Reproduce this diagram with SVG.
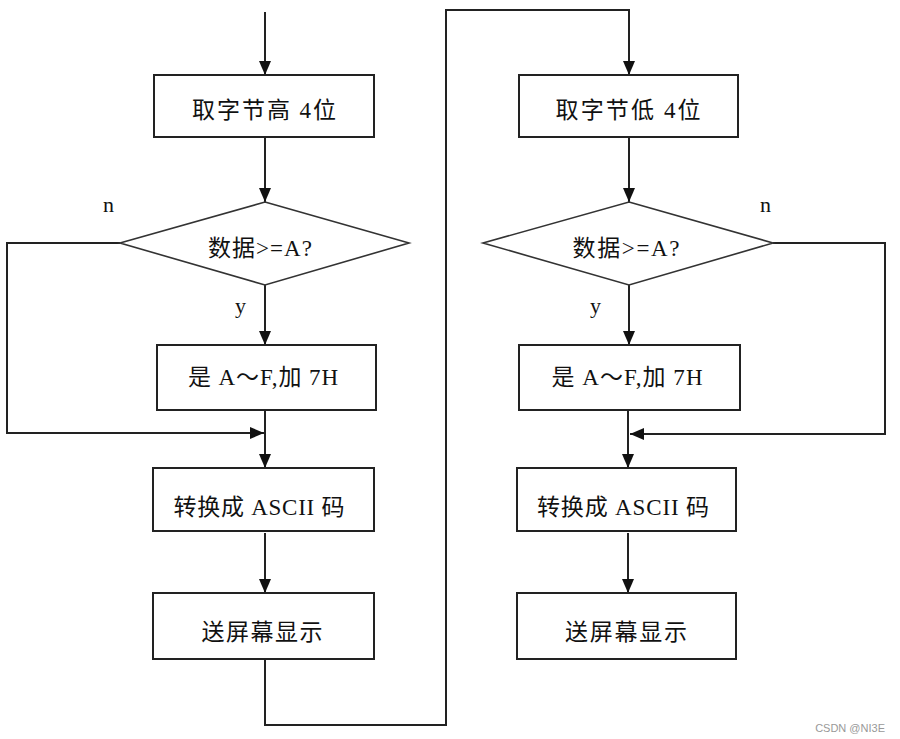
<svg xmlns="http://www.w3.org/2000/svg" width="900" height="739" viewBox="0 0 900 739">
<style>
.box{fill:#fff;stroke:#222;stroke-width:2}
.dia{fill:#fff;stroke:#333;stroke-width:1.6}
.ln{fill:none;stroke:#222;stroke-width:2}
.t{font-family:"Liberation Serif","Noto Sans CJK SC",serif;font-size:23px;fill:#111;text-anchor:middle}
.lbl{font-family:"Liberation Serif",serif;font-size:22px;fill:#111}
.wm{font-family:"Liberation Sans",sans-serif;font-size:11px;fill:#999;text-anchor:end}
</style>
<defs>
<marker id="ah" markerUnits="userSpaceOnUse" markerWidth="14" markerHeight="14" viewBox="0 0 14 14" refX="14" refY="7" orient="auto">
<path d="M0,1 L14,7 L0,13 Z" fill="#111"/>
</marker>
</defs>
<rect width="900" height="739" fill="#fff"/>
<g id="connectors">
<line class="ln" x1="265" y1="12" x2="265" y2="75" marker-end="url(#ah)"/>
<line class="ln" x1="265" y1="137" x2="265" y2="202" marker-end="url(#ah)"/>
<line class="ln" x1="265" y1="285" x2="265" y2="345" marker-end="url(#ah)"/>
<polyline class="ln" points="120,243 7,243 7,433 264,433" marker-end="url(#ah)"/>
<line class="ln" x1="265" y1="410" x2="265" y2="468" marker-end="url(#ah)"/>
<line class="ln" x1="265" y1="533" x2="265" y2="593" marker-end="url(#ah)"/>
<polyline class="ln" points="265,659 265,725 446,725 446,10 629,10 629,75" marker-end="url(#ah)"/>
<line class="ln" x1="629" y1="137" x2="629" y2="202" marker-end="url(#ah)"/>
<line class="ln" x1="629" y1="285" x2="629" y2="345" marker-end="url(#ah)"/>
<polyline class="ln" points="773,243 885,243 885,434 630,434" marker-end="url(#ah)"/>
<line class="ln" x1="628" y1="410" x2="628" y2="468" marker-end="url(#ah)"/>
<line class="ln" x1="628" y1="533" x2="628" y2="593" marker-end="url(#ah)"/>
</g>
<g id="n1"><rect class="box" x="154" y="75" width="220" height="62"/><text class="t" x="264" y="118" textLength="144">取字节高 4位</text></g>
<g id="d1"><polygon class="dia" points="265,202 409,243 265,285 120,243"/><text class="t" x="260" y="256" textLength="104" font-size="21">数据&gt;=A?</text></g>
<g id="n2"><rect class="box" x="157" y="345" width="219" height="65"/><text class="t" x="263" y="385" textLength="150">是 A～F,加 7H</text></g>
<g id="n3"><rect class="box" x="153" y="468" width="221" height="63"/><text class="t" x="259" y="515" textLength="171">转换成 ASCII 码</text></g>
<g id="n4"><rect class="box" x="153" y="593" width="221" height="66"/><text class="t" x="262" y="640" textLength="121">送屏幕显示</text></g>
<g id="n5"><rect class="box" x="519" y="75" width="219" height="62"/><text class="t" x="628" y="118" textLength="145">取字节低 4位</text></g>
<g id="d2"><polygon class="dia" points="629,202 773,243 629,285 483,243"/><text class="t" x="626" y="256" textLength="107" font-size="21">数据&gt;=A?</text></g>
<g id="n6"><rect class="box" x="519" y="345" width="221" height="65"/><text class="t" x="627" y="385" textLength="151">是 A～F,加 7H</text></g>
<g id="n7"><rect class="box" x="517" y="468" width="219" height="63"/><text class="t" x="623" y="515" textLength="172">转换成 ASCII 码</text></g>
<g id="n8"><rect class="box" x="517" y="593" width="219" height="66"/><text class="t" x="626" y="640" textLength="122">送屏幕显示</text></g>
<g id="labels">
<text class="lbl" x="103" y="212">n</text>
<text class="lbl" x="235" y="313">y</text>
<text class="lbl" x="760" y="212">n</text>
<text class="lbl" x="590" y="313">y</text>
</g>
<text class="wm" x="885" y="732">CSDN @NI3E</text>
</svg>
